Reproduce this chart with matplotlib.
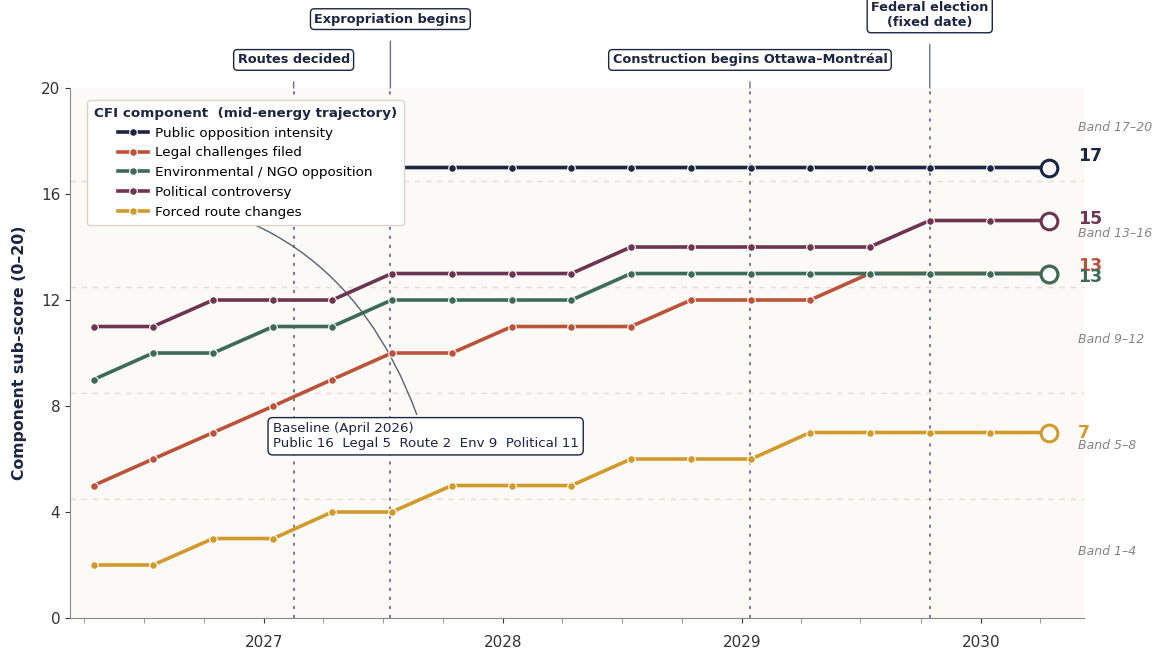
import datetime as dt
import matplotlib
matplotlib.use("Agg")
import matplotlib.pyplot as plt
import matplotlib.dates as mdates

OUTPUT_FILE = "out.png"

# Quarterly trajectory, April 2026 -> April 2030
DATES = [dt.date(2026 + (3 + 3 * i) // 12, (3 + 3 * i) % 12 + 1, 15) for i in range(17)]

SERIES = {
    "Public opposition intensity": [16, 16, 17, 17, 17, 17, 17, 17, 17, 17, 17, 17, 17, 17, 17, 17, 17],
    "Legal challenges filed": [5, 6, 7, 8, 9, 10, 10, 11, 11, 11, 12, 12, 12, 13, 13, 13, 13],
    "Environmental / NGO opposition": [9, 10, 10, 11, 11, 12, 12, 12, 12, 13, 13, 13, 13, 13, 13, 13, 13],
    "Political controversy": [11, 11, 12, 12, 12, 13, 13, 13, 13, 14, 14, 14, 14, 14, 15, 15, 15],
    "Forced route changes": [2, 2, 3, 3, 4, 4, 5, 5, 5, 6, 6, 6, 7, 7, 7, 7, 7],
}
COLORS = ["#1c2541", "#b9533a", "#3e6b57", "#6d3550", "#d09a2c"]
# end-label vertical positions (nudged to avoid overlaps), same order as SERIES
END_LABEL_Y = [17.45, 13.3, 12.85, 15.05, 7.0]

# label, date, label centre (axes fraction)
EVENTS = [
    ("Routes decided", dt.date(2027, 2, 15), 1.053),
    ("Expropriation begins", dt.date(2027, 7, 13), 1.130),
    ("Construction begins Ottawa–Montréal", dt.date(2029, 1, 13), 1.053),
    ("Federal election\n(fixed date)", dt.date(2029, 10, 15), 1.138),
]

BANDS = [(1, 4), (5, 8), (9, 12), (13, 16), (17, 20)]
BAND_EDGES = [4.5, 8.5, 12.5, 16.5]

NAVY = "#1c2541"
LABEL_X = dt.date(2030, 5, 30)


def plot_trajectory(output_file):
    fig = plt.figure(figsize=(11.52, 6.53), dpi=100)
    ax = fig.add_axes([0.0608, 0.0536, 0.8802, 0.8116])
    ax.set_facecolor("#fbfaf6")

    for edge in BAND_EDGES:
        ax.axhline(edge, color="#e6e0d4", lw=1, ls=(0, (4, 4)), zorder=1)

    for label, date, ytxt in EVENTS:
        ax.axvline(date, color="#6b7088", lw=1.3, ls=(0, (1.7, 3.3)), zorder=2)
        ax.annotate(label, xy=(date, 1.0), xycoords=("data", "axes fraction"),
                    xytext=(date, ytxt), textcoords=("data", "axes fraction"),
                    ha="center", va="center", fontsize=9.25, fontweight="bold", color=NAVY,
                    bbox=dict(boxstyle="round,pad=0.3", fc="white", ec=NAVY, lw=1),
                    arrowprops=dict(arrowstyle="-", color="#6b7088", lw=1,
                                    shrinkA=8, shrinkB=0),
                    annotation_clip=False)

    for (name, values), color, ylab in zip(SERIES.items(), COLORS, END_LABEL_Y):
        ax.plot(DATES, values, color=color, lw=2.6, marker="o", ms=5.5,
                mec="white", mew=0.8, label=name, zorder=4)
        ax.plot(DATES[-1], values[-1], marker="o", ms=12, mfc="white", mec=color,
                mew=2.2, zorder=5, ls="none")
        ax.text(LABEL_X, ylab, str(values[-1]), ha="left", va="center",
                fontsize=12.5, fontweight="bold", color=color, zorder=6, clip_on=False)

    for lo, hi in BANDS:
        ax.text(LABEL_X, (lo + hi) / 2, f"Band {lo}–{hi}",
                ha="left", va="center", fontsize=9, style="italic", color="#858585",
                clip_on=False)

    baseline = "Baseline (April 2026)\nPublic {}  Legal {}  Route {}  Env {}  Political {}".format(
        SERIES["Public opposition intensity"][0], SERIES["Legal challenges filed"][0],
        SERIES["Forced route changes"][0], SERIES["Environmental / NGO opposition"][0],
        SERIES["Political controversy"][0])
    ax.annotate(baseline, xy=(DATES[0], SERIES["Public opposition intensity"][0]),
                xytext=(dt.date(2027, 1, 14), 6.33), ha="left", va="bottom",
                fontsize=9.6, color=NAVY,
                bbox=dict(boxstyle="round,pad=0.35", fc="white", ec=NAVY, lw=1),
                arrowprops=dict(arrowstyle="-", color="#5a6075", lw=1,
                                connectionstyle="arc3,rad=0.36",
                                relpos=(0.48, 1.0)),
                zorder=3)

    leg = ax.legend(loc="upper left", bbox_to_anchor=(0.0168, 0.977), borderaxespad=0,
                    title="CFI component  (mid-energy trajectory)",
                    fontsize=9.7, frameon=True, fancybox=True, handlelength=2.2,
                    handletextpad=0.5, borderpad=0.5, labelspacing=0.5)
    leg.get_title().set_fontweight("bold")
    leg.get_title().set_color(NAVY)
    leg.get_title().set_fontsize(9.7)
    leg.get_frame().set_edgecolor("#dcd6c8")
    leg.get_frame().set_facecolor("white")
    leg.get_frame().set_alpha(1)
    leg.set_zorder(10)

    ax.set_ylim(0, 20)
    ax.set_yticks([0, 4, 8, 12, 16, 20])
    ax.set_xlim(dt.date(2026, 3, 10), dt.date(2030, 6, 8))
    ax.xaxis.set_major_locator(mdates.YearLocator())
    ax.xaxis.set_major_formatter(mdates.DateFormatter("%Y"))
    ax.xaxis.set_minor_locator(mdates.MonthLocator(bymonth=[1, 4, 7, 10]))
    ax.tick_params(axis="both", which="both", color="#888888")
    ax.tick_params(axis="x", which="both", length=3.5)
    ax.tick_params(axis="x", which="major", pad=9, labelsize=11, colors="#333333")
    ax.tick_params(axis="y", labelsize=11, colors="#333333")
    ax.set_ylabel("Component sub-score (0–20)", fontsize=11.3, fontweight="bold",
                  color=NAVY, labelpad=10)

    for side in ("top", "right"):
        ax.spines[side].set_visible(False)
    for side in ("left", "bottom"):
        ax.spines[side].set_color("#888888")

    fig.savefig(output_file, dpi=100)


def main():
    plot_trajectory(OUTPUT_FILE)


if __name__ == "__main__":
    main()
